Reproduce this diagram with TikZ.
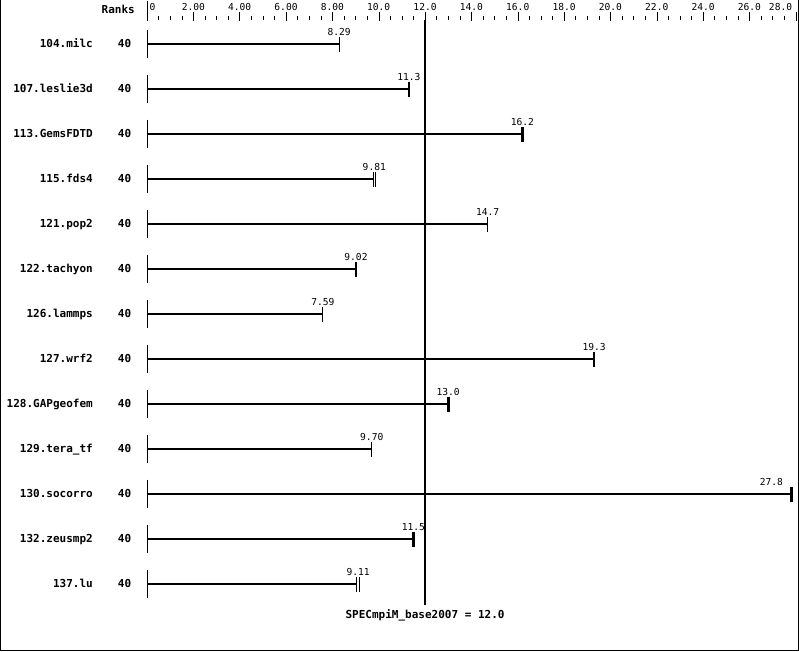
\documentclass[tikz,border=0pt]{standalone}
\usepackage{fontspec}
\setmonofont{DejaVu Sans Mono}

\tikzset{
  boldlabel/.style={font=\ttfamily\bfseries\fontsize{11}{12}\selectfont,inner sep=0pt},
  numlabel/.style={font=\ttfamily\fontsize{9.6}{10}\selectfont,inner sep=0pt},
  bar/.style={line width=2pt},
  thinend/.style={line width=1pt},
  medend/.style={line width=2pt},
  thickend/.style={line width=3pt},
  dblend/.style={double,line width=0.9pt,double distance=1.6pt},
  labmid/.style={anchor=base},
  lableft/.style={anchor=base east,xshift=-8pt},
}

\begin{document}
\begin{tikzpicture}[x=1pt,y=-1pt]
			\useasboundingbox (0,0) rectangle (799,651);
			\draw[line width=1pt] (0.5,0) -- (0.5,650.5) -- (798.5,650.5) -- (798.5,0);

			\node[boldlabel,anchor=base east] (ranks) at (135,13.5) {Ranks};

			\begin{scope}[shift={(147,0)},x=23.17pt]
				% scale along the top
				\draw (0,1) -- (0,21);
				\foreach \t in {0.5,1,...,28} \draw (\t,16) -- (\t,20);
				\foreach \t in {2,4,...,28} \draw (\t,12) -- (\t,21);
				\node[numlabel,anchor=base west] (t0) at (0.1,10) {0};
				\foreach \t/\s in {2/2.00,4/4.00,6/6.00,8/8.00,10/10.0,12/12.0,14/14.0,16/16.0,18/18.0,20/20.0,22/22.0,24/24.0,26/26.0}
					\node[numlabel,anchor=base] (t\t) at (\t,10) {\s};
				\node[numlabel,anchor=base east] (t28) at (27.85,10) {28.0};

				% one row per benchmark
				\foreach \name/\val/\e/\a [count=\i] in {
					104.milc/8.29/thinend/labmid,
					107.leslie3d/11.3/medend/labmid,
					113.GemsFDTD/16.2/thickend/labmid,
					115.fds4/9.81/dblend/labmid,
					121.pop2/14.7/thinend/labmid,
					122.tachyon/9.02/medend/labmid,
					126.lammps/7.59/thinend/labmid,
					127.wrf2/19.3/medend/labmid,
					128.GAPgeofem/13.0/thickend/labmid,
					129.tera\_tf/9.70/thinend/labmid,
					130.socorro/27.8/thickend/lableft,
					132.zeusmp2/11.5/thickend/labmid,
					137.lu/9.11/dblend/labmid}
				{
					\pgfmathsetmacro\y{-1.5+45*\i}
					\node[boldlabel,anchor=base east] (name\i) at (-2.33,\y+4) {\name};
					\node[boldlabel,anchor=base] (ranks\i) at (-0.97,\y+4) {40};
					\draw (0,\y-14) -- (0,\y+14);
					\draw[bar] (0,\y) -- (\val,\y);
					\draw[\e] (\val,\y-6.5) -- (\val,\y+8);
					\node[numlabel,\a] (val\i) at (\val,\y-8.5) {\val};
				}

				% reference line
				\draw[line width=2pt] (12,20) -- (12,605);
				\node[boldlabel,anchor=base] (base) at (12,618) {SPECmpiM\_base2007 = 12.0};
			\end{scope}
		\end{tikzpicture}
\end{document}
